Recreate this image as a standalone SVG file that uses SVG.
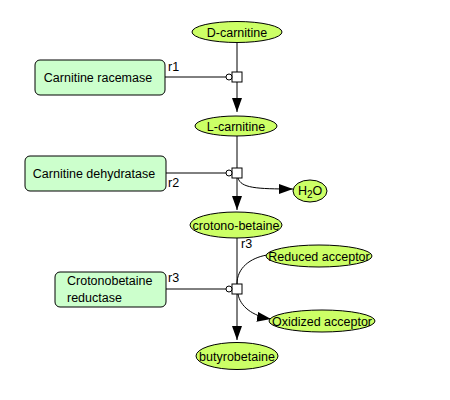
<svg xmlns="http://www.w3.org/2000/svg" width="450" height="400" viewBox="0 0 450 400">
<style>
.sp{fill:#ccff66;stroke:#000;stroke-width:1}
.enz{fill:#ccffcc;stroke:#000;stroke-width:1}
.t{font-family:"Liberation Sans",Arial,sans-serif;font-size:12.5px;fill:#000}
.c{text-anchor:middle}
.ln{fill:none;stroke:#000;stroke-width:1}
.rx{fill:#fff;stroke:#000;stroke-width:1}
</style>
<defs>
<marker id="arr" markerUnits="userSpaceOnUse" markerWidth="14" markerHeight="10" refX="14" refY="5" orient="auto">
<path d="M0,0 L14,5 L0,10 z" fill="#000"/>
</marker>
</defs>
<rect width="450" height="400" fill="#fff"/>
<g id="connectors">
<line class="ln" x1="237" y1="42" x2="237" y2="72"/>
<line class="ln" x1="237" y1="82" x2="237" y2="112" marker-end="url(#arr)"/>
<line class="ln" x1="165" y1="77" x2="226" y2="77"/>
<line class="ln" x1="237" y1="136" x2="237" y2="168"/>
<line class="ln" x1="237" y1="178" x2="237" y2="210" marker-end="url(#arr)"/>
<line class="ln" x1="166" y1="173" x2="226" y2="173"/>
<path class="ln" d="M238,178 C241,188 256,189 293,189" marker-end="url(#arr)"/>
<line class="ln" x1="237" y1="238" x2="237" y2="284"/>
<line class="ln" x1="237" y1="294" x2="237" y2="340" marker-end="url(#arr)"/>
<line class="ln" x1="166" y1="289" x2="226" y2="289"/>
<path class="ln" d="M237,284 C237,268 250,258 267,255"/>
<path class="ln" d="M238,294 C240,306 252,316 271,319" marker-end="url(#arr)"/>
<rect class="rx" x="232" y="72" width="10" height="10"/>
<circle class="rx" cx="229" cy="77" r="3"/>
<rect class="rx" x="232" y="168" width="10" height="10"/>
<circle class="rx" cx="229" cy="173" r="3"/>
<rect class="rx" x="232" y="284" width="10" height="10"/>
<circle class="rx" cx="229" cy="289" r="3"/>
<text class="t" x="168" y="71">r1</text>
<text class="t" x="168" y="187">r2</text>
<text class="t" x="241" y="248">r3</text>
<text class="t" x="168" y="282">r3</text>
</g>
<g id="d-carnitine"><ellipse class="sp" cx="237" cy="32" rx="45" ry="10.5"/><text class="t c" x="237" y="36.5">D-carnitine</text></g>
<g id="l-carnitine"><ellipse class="sp" cx="236" cy="126" rx="41" ry="10"/><text class="t c" x="236" y="130.5">L-carnitine</text></g>
<g id="crotono-betaine"><ellipse class="sp" cx="236" cy="225" rx="46" ry="13"/><text class="t c" x="236" y="229.5">crotono-betaine</text></g>
<g id="butyrobetaine"><ellipse class="sp" cx="237" cy="356" rx="41" ry="13.5"/><text class="t c" x="237" y="360.5">butyrobetaine</text></g>
<g id="h2o"><ellipse class="sp" cx="310" cy="191" rx="17" ry="11"/><text class="t" x="298" y="195">H<tspan dy="3" font-size="10">2</tspan><tspan dy="-3">O</tspan></text></g>
<g id="reduced-acceptor"><ellipse class="sp" cx="319" cy="256" rx="53" ry="11"/><text class="t c" x="319" y="260.5">Reduced acceptor</text></g>
<g id="oxidized-acceptor"><ellipse class="sp" cx="322" cy="321" rx="53" ry="11"/><text class="t c" x="322" y="325.5">Oxidized acceptor</text></g>
<g id="carnitine-racemase"><rect class="enz" x="35" y="60" width="130" height="35" rx="5"/><text class="t c" x="98" y="82">Carnitine racemase</text></g>
<g id="carnitine-dehydratase"><rect class="enz" x="25" y="156" width="141" height="35" rx="5"/><text class="t c" x="94" y="178">Carnitine dehydratase</text></g>
<g id="crotonobetaine-reductase"><rect class="enz" x="55" y="272" width="111" height="35" rx="5"/><text class="t" x="67" y="285">Crotonobetaine</text><text class="t" x="67" y="302">reductase</text></g>
</svg>
